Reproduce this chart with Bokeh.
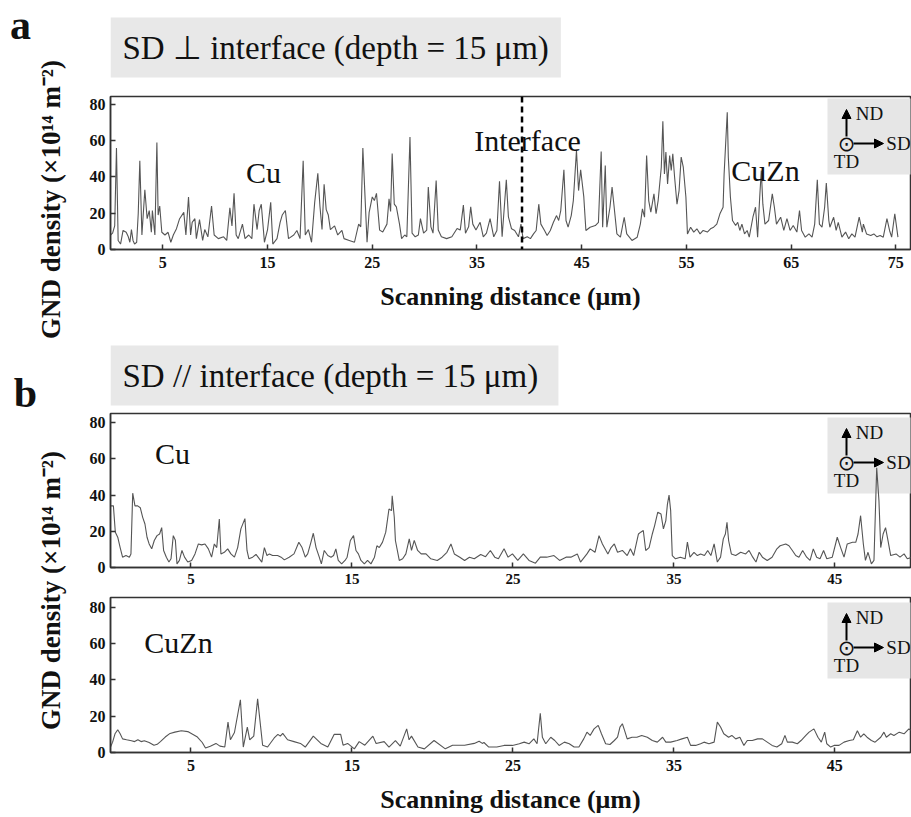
import math
from bokeh.plotting import figure
from bokeh.models import Range1d, Label, Span, BoxAnnotation, Arrow, NormalHead
from bokeh.layouts import row, column
from bokeh.embed import file_html
from bokeh.resources import INLINE

# ---------------- data ----------------
a_x = [0.0, 0.2, 0.4, 0.57, 0.73, 0.96, 1.2, 1.5, 1.7, 1.85, 2.0, 2.15, 2.3, 2.5, 2.65, 2.8, 3.0, 3.28, 3.5, 3.7,
       3.9, 4.0, 4.24, 4.43, 4.55, 4.7, 4.9, 5.2, 5.5, 5.76, 6.0, 6.3, 6.6, 7.0, 7.2, 7.45, 7.65, 7.8, 8.06, 8.2,
       8.5, 8.8, 9.0, 9.3, 9.65, 9.9, 10.3, 10.8, 11.1, 11.4, 11.6, 11.8, 12.0, 12.2, 12.6, 12.85, 13.2, 13.5, 13.7, 14.0,
       14.2, 14.4, 14.7, 15.0, 15.3, 15.5, 15.9, 16.2, 16.4, 16.7, 16.9, 17.0, 17.5, 17.8, 18.1, 18.4, 18.6, 18.9, 19.2, 19.5,
       19.8, 20.0, 20.2, 20.4, 20.6, 20.8, 21.0, 21.4, 21.7, 22.1, 22.3, 22.8, 23.3, 23.7, 23.9, 24.1, 24.3, 24.5, 24.7, 25.0,
       25.2, 25.4, 25.7, 26.0, 26.4, 26.6, 26.75, 26.9, 27.1, 27.3, 27.6, 27.8, 28.1, 28.3, 28.6, 28.8, 29.1, 29.4, 29.6, 29.9,
       30.2, 30.35, 30.6, 30.8, 31.1, 31.3, 31.6, 32.1, 32.6, 33.1, 33.4, 33.7, 33.9, 34.2, 34.4, 34.6, 34.9, 35.3, 35.6, 35.9,
       36.25, 36.6, 36.9, 37.15, 37.4, 37.8, 38.0, 38.3, 38.6, 38.96, 39.2, 39.4, 39.8, 40.1, 40.4, 40.65, 40.9, 41.1, 41.45, 41.7,
       42.0, 42.3, 42.6, 42.8, 43.0, 43.3, 43.5, 43.7, 44.0, 44.2, 44.5, 44.7, 44.9, 45.2, 45.4, 45.8, 46.3, 46.6, 46.86, 47.0,
       47.25, 47.4, 47.7, 47.9, 48.1, 48.36, 48.7, 49.06, 49.3, 49.8, 50.3, 50.6, 50.8, 51.0, 51.2, 51.4, 51.6, 51.9, 52.1, 52.3,
       52.6, 52.75, 52.9, 53.04, 53.2, 53.4, 53.55, 53.7, 53.87, 54.1, 54.3, 54.5, 54.7, 54.95, 55.1, 55.4, 55.7, 56.0, 56.3, 56.6,
       57.0, 57.3, 57.6, 57.9, 58.2, 58.5, 58.6, 58.9, 59.0, 59.2, 59.4, 59.7, 59.9, 60.1, 60.3, 60.55, 60.8, 61.0, 61.35, 61.6,
       61.8, 62.0, 62.15, 62.3, 62.5, 62.85, 63.2, 63.4, 63.6, 64.0, 64.3, 64.6, 64.9, 65.2, 65.55, 65.8, 66.0, 66.35, 66.7, 67.0,
       67.25, 67.5, 67.7, 67.95, 68.2, 68.36, 68.6, 68.7, 69.06, 69.3, 69.5, 69.85, 70.2, 70.5, 70.8, 71.1, 71.5, 71.8, 71.9, 72.2,
       72.6, 72.9, 73.2, 73.5, 73.8, 74.15, 74.4, 74.6, 74.9, 75.2]
a_y = [8, 9, 13, 56, 5, 3, 10.5, 9.5, 7, 4, 11, 5, 3, 4, 20, 49, 8, 33, 17, 21.5,
       9.5, 21.5, 8, 59, 19, 24, 9.5, 8, 9.5, 4, 8, 11.5, 17, 20.5, 8, 29, 8, 15, 17, 6,
       16.5, 5, 11, 7, 24, 8, 6, 7, 5, 23, 13, 31, 8, 6, 14, 6, 8, 6, 25, 11,
       21.5, 25, 4, 11, 26, 3, 6, 15, 19, 21.5, 11, 6, 8, 10.5, 6, 49, 8, 11, 4, 26,
       42, 24, 11, 36, 22, 19, 11, 13, 8, 10.5, 6, 5, 4, 14, 12.5, 56, 30, 4, 20.5, 29,
       27, 31, 10.7, 9.7, 14, 28, 21, 53, 25, 23.5, 14, 6, 8, 7, 62, 9, 7, 8, 17, 9,
       10.7, 34.5, 12.5, 9, 38, 10.7, 7, 6, 7, 11.6, 10.7, 24.5, 9, 12.5, 23.5, 14, 10.7, 15, 7, 9,
       17, 7, 10.5, 37.7, 7, 38.4, 18, 11.4, 10.5, 7, 14, 6, 7, 6, 8.6, 10.5, 25, 14, 10.5, 7.7,
       10.5, 15, 18.7, 16, 21.5, 44, 16, 12.3, 18.7, 27, 54.6, 32.5, 44, 29, 10.5, 12.3, 13.2, 15, 54, 12.3,
       46.3, 12.3, 23.3, 34.4, 23.3, 8.6, 6.8, 17.8, 8.6, 5, 6.8, 14, 22.4, 17.8, 51.8, 27, 20.6, 30.7, 19.7, 27,
       45.4, 70.8, 41.7, 53.7, 36.2, 51.8, 43.6, 52.8, 40, 25, 32.5, 51, 45.4, 29, 8.6, 12.3, 9.6, 11.4, 8.6, 10.5,
       9.6, 11.4, 12.3, 14, 19.7, 23.3, 41.7, 75.7, 51, 29, 16, 13.2, 15, 10.5, 14, 8.6, 10.5, 6.8, 17.8, 23.3,
       6.8, 29, 43.6, 25, 14, 16, 30.7, 23.3, 14, 17.8, 10.5, 17, 10.5, 13.2, 9.6, 21.5, 10.5, 6.8, 8.6, 6.8,
       14, 38.4, 14, 12.3, 23.3, 36.6, 16, 12.3, 17.8, 10.5, 15, 6.8, 9.6, 5.9, 8.6, 6.8, 17.8, 9.6, 14, 8.6,
       7.7, 8.6, 7, 7.7, 6.8, 17, 10.5, 6.8, 19.7, 6.8]

b_cu_x = [0.0, 0.18, 0.3, 0.45, 0.6, 0.75, 0.96, 1.17, 1.27, 1.38, 1.52, 1.69, 1.85, 2.0, 2.14, 2.27, 2.4, 2.56, 2.72, 2.89,
          3.05, 3.18, 3.3, 3.47, 3.63, 3.76, 3.9, 4.03, 4.13, 4.28, 4.44, 4.6, 4.8, 5.04, 5.25, 5.46, 5.66, 5.87, 6.08, 6.28,
          6.45, 6.6, 6.76, 6.86, 7.07, 7.28, 7.48, 7.7, 7.9, 8.1, 8.35, 8.48, 8.6, 8.83, 9.04, 9.25, 9.4, 9.56, 9.72, 9.87,
          10.07, 10.38, 10.6, 10.8, 11.1, 11.4, 11.7, 11.9, 12.1, 12.25, 12.45, 12.6, 12.77, 12.97, 13.1, 13.28, 13.5, 13.7, 13.86, 14.0,
          14.15, 14.36, 14.57, 14.7, 14.9, 15.1, 15.25, 15.4, 15.56, 15.77, 15.97, 16.18, 16.4, 16.55, 16.7, 16.9, 17.1, 17.3, 17.46, 17.5,
          17.63, 17.7, 17.94, 18.15, 18.35, 18.56, 18.7, 18.87, 19.08, 19.3, 19.6, 19.9, 20.3, 20.6, 20.9, 21.15, 21.36, 21.7, 22.0, 22.3,
          22.6, 23.0, 23.3, 23.6, 23.87, 24.1, 24.45, 24.7, 24.97, 25.3, 25.65, 26.0, 26.4, 26.7, 27.1, 27.55, 27.9, 28.3, 28.6, 29.0,
          29.2, 29.6, 29.8, 30.1, 30.35, 30.56, 30.9, 31.1, 31.3, 31.5, 31.8, 32.1, 32.3, 32.5, 32.8, 32.94, 33.1, 33.25, 33.46, 33.66,
          33.8, 34.0, 34.2, 34.35, 34.5, 34.6, 34.7, 34.8, 34.9, 35.1, 35.4, 35.7, 35.84, 36.0, 36.25, 36.46, 36.66, 36.9, 37.1, 37.3,
          37.5, 37.7, 37.9, 38.07, 38.2, 38.3, 38.4, 38.57, 38.84, 39.15, 39.46, 39.67, 39.9, 40.1, 40.3, 40.5, 40.8, 41.1, 41.4, 41.6,
          41.95, 42.15, 42.36, 42.57, 42.77, 43.0, 43.25, 43.46, 43.66, 43.87, 44.08, 44.3, 44.5, 44.84, 45.15, 45.36, 45.57, 45.77, 46.1, 46.3,
          46.44, 46.6, 46.77, 46.9, 47.06, 47.27, 47.43, 47.6, 47.74, 47.85, 48.0, 48.15, 48.3, 48.47, 48.8, 49.05, 49.3, 49.5, 49.8]
b_cu_y = [34, 34, 19.5, 16.7, 11, 5.7, 6.6, 5.7, 7.5, 41, 34, 34, 33, 27.7, 24, 16.7, 13, 10.3, 14.9, 17.6,
          18.5, 22, 9.4, 5.7, 3, 4.8, 17.6, 15, 2, 3.9, 9.4, 5.7, 3, 3.9, 7.5, 13, 12.5, 13, 10.3, 5.7,
          13, 11, 26.8, 7.5, 8.4, 10.3, 7.5, 5.7, 11, 21.3, 27, 9.4, 4.8, 5.7, 7.2, 4.8, 3, 11, 6.6, 7.5,
          6.6, 6.6, 5.7, 4.2, 5.7, 7.5, 13.9, 11, 5.7, 7.5, 13.9, 18.9, 11, 5.7, 2, 9.4, 6.6, 5.7, 6.6, 10.3,
          3.9, 2, 3.9, 5.7, 14.9, 17.6, 9.4, 7.5, 3.9, 2, 3.9, 2, 5.7, 12, 11, 14, 19.5, 32.3, 31.4, 39.6,
          27.7, 14.9, 3.9, 4.8, 7.5, 15.8, 9.4, 15, 9.4, 7.5, 7.5, 4.8, 3.9, 5.7, 8.4, 13, 7.5, 5.7, 3.9, 5.7,
          4.8, 7.2, 6, 9.4, 5.7, 4.8, 10.3, 5.7, 7.5, 3.9, 7.5, 3.9, 2.4, 5.7, 5.7, 6.6, 3.9, 5.7, 5.7, 7.5,
          3, 7.5, 10.3, 8.4, 17.6, 13, 7.5, 11, 13, 8.4, 9.4, 6.6, 10.3, 6.6, 18.5, 19.5, 20.4, 9.4, 11, 18.5,
          23, 30.5, 29.5, 21.3, 25.9, 35, 40, 31.4, 6.6, 4.8, 5.7, 4.8, 14, 5.7, 8.4, 6.6, 7.5, 6.6, 9.4, 6.6,
          13, 3, 5.7, 15.8, 18.5, 25, 14.9, 7.5, 6.6, 8.4, 7.5, 9.4, 5.7, 3, 8.4, 5.7, 3.9, 5.7, 10.3, 12,
          13, 12, 9.4, 6.6, 5.7, 9.4, 5.7, 3.9, 10.3, 5.7, 4.8, 9.4, 4.8, 5.7, 16.7, 11, 5.7, 13, 13.9, 13.9,
          18.5, 28.6, 13, 3.9, 8.4, 2, 3.9, 55, 36.9, 11, 18.5, 22, 15, 6.6, 7.5, 5.7, 7.5, 4.8, 5.7]

b_cuzn_x = [0.0, 0.13, 0.28, 0.45, 0.6, 0.75, 1.0, 1.3, 1.5, 1.7, 1.9, 2.1, 2.4, 2.7, 2.9, 3.1, 3.4, 3.7, 4.0, 4.4,
            4.8, 5.1, 5.4, 5.7, 5.9, 6.2, 6.55, 6.8, 7.1, 7.3, 7.45, 7.7, 8.07, 8.25, 8.5, 8.65, 8.9, 9.14, 9.45, 9.76,
            10.17, 10.4, 10.55, 10.7, 11.0, 11.4, 11.8, 12.1, 12.6, 13.07, 13.5, 13.9, 14.3, 14.45, 14.73, 15.15, 15.45, 15.8, 16.3, 16.5,
            17.0, 17.3, 17.7, 18.0, 18.4, 18.55, 18.7, 19.1, 19.5, 20.1, 20.8, 21.25, 22.0, 22.6, 22.9, 23.1, 23.2, 23.5, 24.0, 24.45,
            24.97, 25.4, 25.7, 26.0, 26.3, 26.5, 26.7, 26.83, 27.04, 27.35, 27.6, 27.87, 28.2, 28.5, 28.8, 29.1, 29.4, 29.6, 29.8, 30.04,
            30.3, 30.5, 30.76, 31.03, 31.3, 31.5, 31.65, 31.8, 31.94, 32.1, 32.4, 32.7, 33.0, 33.35, 33.66, 33.97, 34.3, 34.5, 34.8, 35.2,
            35.5, 35.84, 36.04, 36.35, 36.66, 36.87, 37.18, 37.5, 37.7, 37.9, 38.1, 38.4, 38.6, 38.84, 39.1, 39.35, 39.56, 39.87, 40.2, 40.5,
            40.8, 41.1, 41.4, 41.7, 41.9, 42.05, 42.36, 42.67, 42.9, 43.2, 43.4, 43.7, 43.95, 44.16, 44.37, 44.5, 44.74, 44.95, 45.26, 45.57,
            45.9, 46.15, 46.4, 46.6, 46.8, 47.0, 47.27, 47.5, 47.85, 48.05, 48.2, 48.47, 48.67, 49.0, 49.3, 49.6, 49.77]
b_cuzn_y = [3, 5.7, 10.3, 12.5, 10.3, 7.5, 7, 6.5, 6, 7, 6, 6.5, 5.5, 4, 4.5, 6, 8.5, 10.5, 11.2, 12,
            11.5, 10, 8.5, 5.5, 2.5, 3.5, 5, 3.5, 3, 16.7, 7, 11, 29, 3, 14, 7, 9, 29.5, 4, 3,
            8, 10, 9, 10.5, 7, 6, 5, 3, 9, 5, 3, 10, 10, 4, 5, 2, 6, 4, 9, 5,
            6, 3, 6.5, 3.5, 13, 7, 9, 3, 2, 6.6, 2, 4, 4, 5, 6.2, 5, 5.5, 3, 3, 3.9,
            3.9, 4.8, 5.7, 4.8, 7.5, 4.8, 21.6, 8.4, 4.8, 8.4, 6.6, 3.9, 5.7, 4.8, 3, 3, 7.5, 11.2, 9.4, 13,
            14.9, 10.3, 4.8, 4.4, 6.6, 8.4, 14, 15.8, 12, 7.5, 8.4, 8.4, 9.4, 8.4, 6.6, 5.7, 8.4, 5.7, 5.7, 6.6,
            7.5, 8.4, 3.9, 3.9, 4.8, 5.7, 4.8, 5.7, 16.7, 14, 10.3, 8.4, 9.4, 7.5, 8.4, 3.9, 6.6, 6.6, 7.5, 7.5,
            5.7, 3.9, 3, 4.8, 9.4, 5.7, 5.7, 4.8, 6.6, 9.4, 11.2, 13, 8.4, 5.7, 11.2, 4.8, 3, 3.9, 3.9, 5.7,
            6.6, 7, 12, 8.4, 10.3, 8.4, 6.6, 5.7, 8.4, 11.2, 8.4, 10.3, 9.4, 11.2, 10.3, 13, 12]

interface_x = 39.3
a_xticks = [5, 15, 25, 35, 45, 55, 65, 75]
b_xticks = [5, 15, 25, 35, 45]
y_ticks = [0, 20, 40, 60, 80]
x_label = "Scanning distance (μm)"
y_label = "GND density (×10¹⁴ m⁻²)"

SERIF = "Liberation Serif"
LINE = "#555555"

# frames in page pixel coordinates
FA = dict(l=110, t=96, w=800, h=153, x0=0, x1=76.4, y0=0, y1=84.4)
FB1 = dict(l=110, t=413, w=800, h=154, x0=0, x1=49.7, y0=0, y1=85.0)
FB2 = dict(l=110, t=597, w=800, h=155, x0=0, x1=49.7, y0=0, y1=85.3)


def g2d(F, gx, gy):
    x = F['x0'] + (gx - F['l']) * (F['x1'] - F['x0']) / F['w']
    y = F['y1'] - (gy - F['t']) * (F['y1'] - F['y0']) / F['h']
    return x, y


def make_fig(F, height, top_off, xticks):
    bt = F['t'] - top_off
    bb = height - (F['t'] + F['h'] - top_off)
    p = figure(width=841, height=height, x_range=Range1d(F['x0'], F['x1']),
               y_range=Range1d(F['y0'], F['y1']), output_backend="svg",
               toolbar_location=None, tools="", title=None,
               min_border_left=40, min_border_right=1, min_border_top=bt, min_border_bottom=bb)
    p.grid.visible = False
    p.outline_line_color = "#333333"
    p.outline_line_width = 1.5
    for ax in (p.xaxis[0], p.yaxis[0]):
        ax.axis_line_color = "#333333"
        ax.axis_line_width = 1.5
        ax.major_tick_in = 5
        ax.major_tick_out = 0
        ax.major_tick_line_width = 1.5
        ax.major_tick_line_color = "#333333"
        ax.minor_tick_line_color = None
        ax.major_label_text_font = SERIF
        ax.major_label_text_font_style = "bold"
        ax.major_label_text_font_size = "16px"
        ax.major_label_text_color = "#111111"
        ax.axis_label_text_font = SERIF
        ax.axis_label_text_font_style = "bold"
        ax.axis_label_text_font_size = "26px"
        ax.axis_label_text_color = "#111111"
    p.xaxis.ticker = xticks
    p.yaxis.ticker = y_ticks
    p.xaxis.major_label_standoff = 7
    p.yaxis.major_label_standoff = 5
    return p


def add_text(p, F, gx, gy, text, size, bold=False, font=SERIF, align="center", **kw):
    x, y = g2d(F, gx, gy)
    p.add_layout(Label(x=x, y=y, text=text, text_font=font, text_font_size=f"{size}px",
                       text_font_style="bold" if bold else "normal", text_align=align,
                       text_baseline="middle", text_color="#111111", **kw))


def add_icon(p, F, T):
    l, _ = g2d(F, 827, T)
    r, top = g2d(F, 911, T)
    _, bot = g2d(F, 911, T + 76)
    p.add_layout(BoxAnnotation(left=l, right=r, bottom=bot, top=top, fill_color="#e6e6e6",
                               fill_alpha=1.0, line_color=None, level="underlay"))
    cx = 846
    x1, y1 = g2d(F, cx, T + 38)
    x2, y2 = g2d(F, cx, T + 11)
    p.add_layout(Arrow(end=NormalHead(size=9, fill_color="black", line_color="black"),
                       x_start=x1, y_start=y1, x_end=x2, y_end=y2, line_width=2, line_color="black"))
    x1, y1 = g2d(F, 853, T + 45)
    x2, y2 = g2d(F, 883, T + 45)
    p.add_layout(Arrow(end=NormalHead(size=9, fill_color="black", line_color="black"),
                       x_start=x1, y_start=y1, x_end=x2, y_end=y2, line_width=2, line_color="black"))
    add_text(p, F, cx, T + 45, "⊙", 21, font="DejaVu Sans")
    add_text(p, F, 869, T + 15, "ND", 19)
    add_text(p, F, 898, T + 45, "SD", 19)
    add_text(p, F, 846, T + 63, "TD", 19)


def pixel_fig(width, height, left, top, bl=0, br=0):
    # a plain drawing area (no axes) whose data coordinates are page pixels
    f = figure(width=width, height=height, x_range=Range1d(left + bl, left + width - br),
               y_range=Range1d(top + height, top), x_axis_location=None, y_axis_location=None,
               output_backend="svg", toolbar_location=None, tools="", title=None,
               min_border=0, min_border_left=bl, min_border_right=br, min_border_top=0, min_border_bottom=0)
    f.grid.visible = False
    f.outline_line_color = None
    return f


# ---------------- title rows (frames aligned with the panels below) ----------------
ta = pixel_fig(841, 94, 70, 0, bl=40, br=1)
ta.add_layout(Label(x=110, y=47, text="SD ⊥ interface (depth = 15 μm)", text_font=SERIF,
                    text_font_size="33px", text_align="left", text_baseline="middle",
                    text_color="#111111", background_fill_color="#e8e8e8", padding=12))
tb = pixel_fig(841, 81, 70, 330, bl=40, br=1)
tb.add_layout(Label(x=110, y=375, text="SD // interface  (depth = 15 μm)", text_font=SERIF,
                    text_font_size="33px", text_align="left", text_baseline="middle",
                    text_color="#111111", background_fill_color="#e8e8e8", padding=12))

# ---------------- panel a ----------------
pa = make_fig(FA, 236, 94, a_xticks)
pa.line(a_x, a_y, line_color=LINE, line_width=1.1)
pa.add_layout(Span(location=interface_x, dimension="height", line_color="black",
                   line_width=2.5, line_dash="6 4"))
add_icon(pa, FA, 98)
add_text(pa, FA, 263, 172, "Cu", 30)
add_text(pa, FA, 527, 140, "Interface", 30)
add_text(pa, FA, 765, 170, "CuZn", 30)
pa.xaxis.axis_label = x_label
pa.xaxis.axis_label_standoff = 11

# ---------------- panel b (Cu) ----------------
pb1 = make_fig(FB1, 179, 411, b_xticks)
pb1.line(b_cu_x, b_cu_y, line_color=LINE, line_width=1.1)
add_icon(pb1, FB1, 417)
add_text(pb1, FB1, 172, 453, "Cu", 30)
pb1.xaxis.major_label_text_font_size = "15px"
pb1.xaxis.major_label_standoff = 6

# ---------------- panel b (CuZn) ----------------
pb2 = make_fig(FB2, 227, 590, b_xticks)
pb2.line(b_cuzn_x, b_cuzn_y, line_color=LINE, line_width=1.1)
add_icon(pb2, FB2, 602)
add_text(pb2, FB2, 178, 642, "CuZn", 30)
pb2.xaxis.axis_label = x_label
pb2.xaxis.axis_label_standoff = 11

# ---------------- left strip ----------------
strip = pixel_fig(70, 817, 0, 0)
strip.add_layout(Label(x=20, y=24, text="a", text_font=SERIF, text_font_size="42px",
                       text_font_style="bold", text_align="center", text_baseline="middle", text_color="#111111"))
strip.add_layout(Label(x=25, y=392, text="b", text_font=SERIF, text_font_size="42px",
                       text_font_style="bold", text_align="center", text_baseline="middle", text_color="#111111"))
for cy in (199, 590):
    strip.add_layout(Label(x=50, y=cy, text=y_label, text_font=SERIF,
                           text_font_size="27px", text_font_style="bold", text_align="center",
                           text_baseline="middle", angle=math.pi / 2, text_color="#111111"))

layout = row(strip, column(ta, pa, tb, pb1, pb2, spacing=0), spacing=0)
open("out.html", "w").write(file_html(layout, INLINE))
